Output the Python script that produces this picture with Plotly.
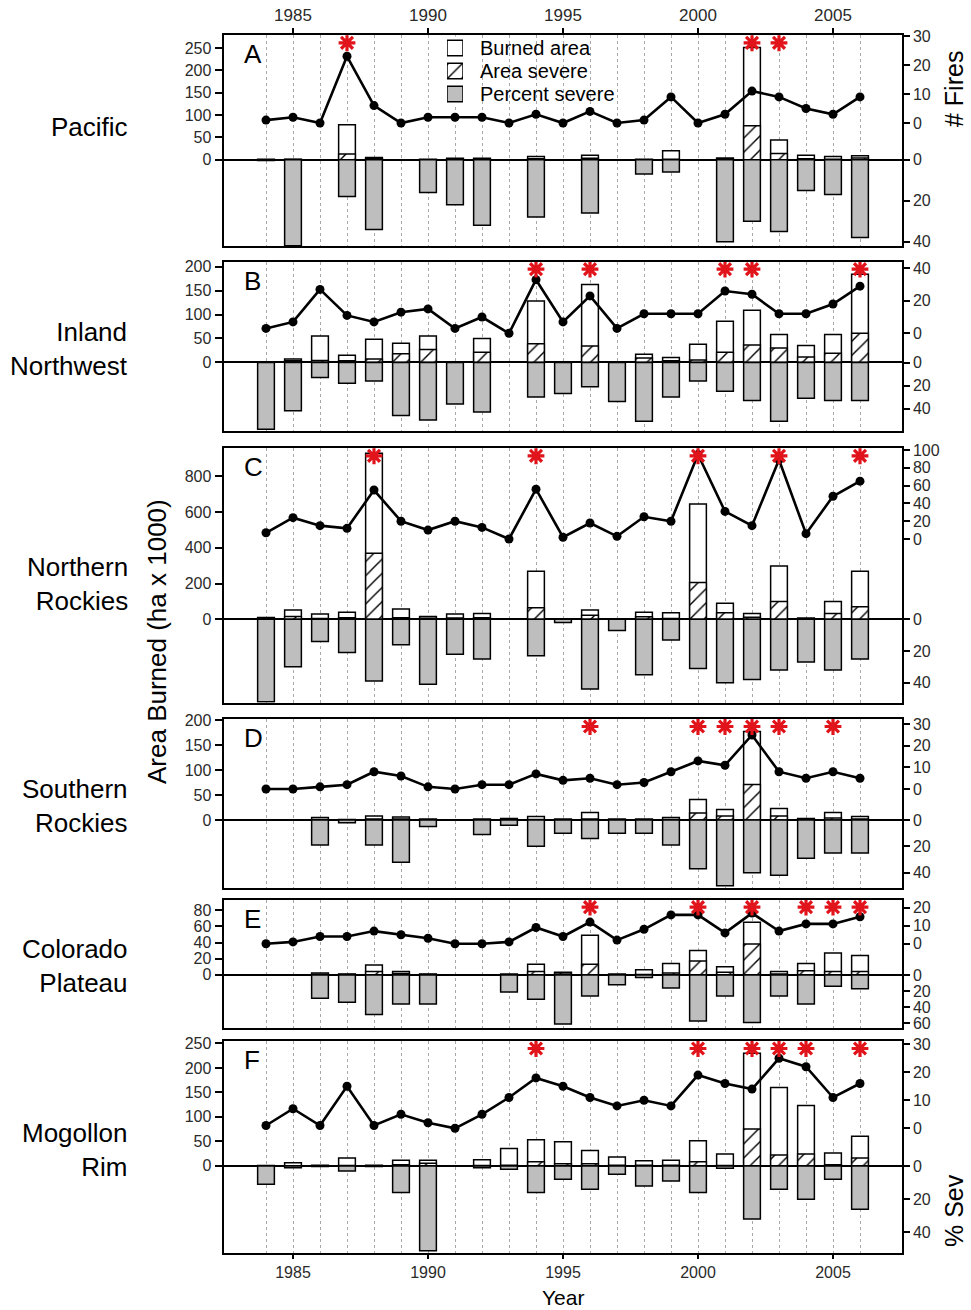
import plotly.graph_objects as go

N = None
years = list(range(1984, 2007))
regions = ["Pacific", "Inland<br>Northwest", "Northern<br>Rockies",
           "Southern<br>Rockies", "Colorado<br>Plateau", "Mogollon<br>Rim"]
letters = ["A", "B", "C", "D", "E", "F"]
year_ticks = [1985, 1990, 1995, 2000, 2005]
legend_labels = ["Burned area", "Area severe", "Percent severe"]

# ---- Pacific ----
pac_fires = [1, 2, 0, 23, 6, 0, 2, 2, 2, 0, 3, 0, 4, 0, 1, 9, 0, 3, 11, 9, 5, 3, 9]
pac_burned = [1, 1, N, 78, 5, N, 1, 3, 3, N, 7, N, 10, N, 1, 20, N, 4, 251, 44, 10, 7, 9]
pac_severe = [0, 0.5, N, 13, 2, N, 0, 1, 1, N, 2, N, 3, N, 0, 1, N, 2, 76, 14, 2, 1, 4]
pac_pct = [0.4, 42, N, 18, 34, N, 16, 22, 32, N, 28, N, 26, N, 7, 6, N, 40, 30, 35, 15, 17, 38]
pac_stars = [1987, 2002, 2003]

# ---- Inland Northwest ----
inw_fires = [3, 7, 27, 11, 7, 13, 15, 3, 10, 0, 33, 7, 23, 3, 12, 12, 12, 26, 24, 12, 12, 18, 29]
inw_burned = [1, 7, 55, 15, 48, 40, 55, 1, 50, N, 128, 1, 163, 1, 17, 10, 38, 86, 109, 58, 35, 58, 184]
inw_severe = [0.5, 3, 4, 3, 7, 18, 27, 0.3, 21, N, 39, 0.3, 34, 0.3, 9, 3, 5, 21, 36, 30, 11, 19, 61]
inw_pct = [58, 42, 13, 18, 16, 46, 50, 36, 43, N, 30, 27, 21, 34, 51, 30, 16, 25, 33, 51, 31, 33, 33]
inw_stars = [1994, 1996, 2001, 2002, 2006]

# ---- Northern Rockies ----
nro_fires = [7, 24, 15, 12, 55, 20, 10, 20, 13, 0, 56, 2, 18, 3, 25, 20, 95, 31, 15, 89, 6, 48, 65]
nro_burned = [10, 52, 30, 39, 927, 58, 15, 30, 33, N, 268, 3, 52, 1, 39, 37, 644, 89, 33, 298, 7, 99, 268]
nro_severe = [5, 15, 4, 8, 369, 9, 6, 7, 8, N, 65, 0.1, 23, 0, 14, 5, 205, 36, 12, 100, 2, 32, 70]
nro_pct = [52, 30, 14, 21, 39, 16, 41, 22, 25, N, 23, 2, 44, 7, 35, 13, 31, 40, 38, 32, 27, 32, 25]
nro_stars = [1988, 1994, 2000, 2003, 2006]

# ---- Southern Rockies ----
sro_fires = [0, 0, 1, 2, 8, 6, 1, 0, 2, 2, 7, 4, 5, 2, 3, 8, 13, 11, 25, 8, 5, 8, 5]
sro_burned = [N, N, 5, 1, 8, 6, 2, N, 2, 3, 7, 2, 15, 2, 2, 5, 41, 21, 177, 23, 3, 15, 7]
sro_severe = [N, N, 1, 0, 2, 2, 0, N, 0, 0, 1, 0, 2, 0, 0, 1, 14, 8, 71, 8, 1, 4, 2]
sro_pct = [N, N, 19, 2, 19, 32, 5, N, 11, 4, 20, 10, 14, 10, 10, 19, 37, 50, 40, 42, 29, 25, 25]
sro_stars = [1996, 2000, 2001, 2002, 2003, 2005]

# ---- Colorado Plateau ----
cpl_fires = [0, 1, 4, 4, 7, 5, 3, 0, 0, 1, 9, 4, 12, 2, 8, 16, 16, 6, 17, 7, 11, 11, 15]
cpl_burned = [N, N, 2, 1, 12, 4, 1, N, N, 1, 13, 3, 49, 1, 6, 14, 30, 10, 65, 4, 14, 27, 24]
cpl_severe = [N, N, 0.5, 0.3, 4, 1.5, 0.3, N, N, 0, 4, 2, 13, 0, 0.2, 2, 17, 3, 38, 1, 5, 4, 4]
cpl_pct = [N, N, 29, 34, 49, 36, 36, N, N, 21, 30, 61, 26, 12, 3, 16, 57, 26, 59, 26, 36, 14, 17]
cpl_stars = [1996, 2000, 2002, 2004, 2005, 2006]

# ---- Mogollon Rim ----
mog_fires = [1, 7, 1, 15, 1, 5, 2, 0, 5, 11, 18, 15, 11, 8, 10, 8, 19, 16, 14, 25, 22, 11, 16]
mog_burned = [0.5, 6, 1, 16, 1, 11, 11, N, 12, 35, 53, 49, 31, 18, 10, 11, 51, 24, 230, 160, 123, 26, 60]
mog_severe = [0, 0.1, 0, 0.5, 0, 2, 5, N, 0.2, 1, 8, 4, 4, 1, 1, 1, 8, 0.3, 75, 22, 24, 2, 16]
mog_pct = [11, 1, 0.3, 3, 0.3, 16, 51, N, 1, 2, 16, 8, 14, 5, 12, 9, 16, 1.4, 32, 14, 20, 8, 26]
mog_stars = [1994, 2000, 2002, 2003, 2004, 2006]

data = [
    (pac_fires, pac_burned, pac_severe, pac_pct, pac_stars),
    (inw_fires, inw_burned, inw_severe, inw_pct, inw_stars),
    (nro_fires, nro_burned, nro_severe, nro_pct, nro_stars),
    (sro_fires, sro_burned, sro_severe, sro_pct, sro_stars),
    (cpl_fires, cpl_burned, cpl_severe, cpl_pct, cpl_stars),
    (mog_fires, mog_burned, mog_severe, mog_pct, mog_stars),
]

# ---- layout geometry (pixels) ----
W, H = 971, 1310
X0, X1 = 224.3, 901.7
panels = [
    dict(top=35.3, bot=246.0, az=159.7, ap=0.4468, fz=123.0, fp=2.9, sz=159.7, sp=2.05,
         at=[0, 50, 100, 150, 200, 250], ft=[0, 10, 20, 30], st=[0, 20, 40]),
    dict(top=261.7, bot=431.0, az=362.3, ap=0.478, fz=333.3, fp=1.625, sz=362.5, sp=1.15,
         at=[0, 50, 100, 150, 200], ft=[0, 20, 40], st=[0, 20, 40]),
    dict(top=448.3, bot=702.7, az=619.3, ap=0.179, fz=539.0, fp=0.89, sz=619.3, sp=1.585,
         at=[0, 200, 400, 600, 800], ft=[0, 20, 40, 60, 80, 100], st=[0, 20, 40]),
    dict(top=719.0, bot=888.3, az=820.0, ap=0.5, fz=789.0, fp=2.16, sz=820.0, sp=1.317,
         at=[0, 50, 100, 150, 200], ft=[0, 10, 20, 30], st=[0, 20, 40]),
    dict(top=899.7, bot=1028.0, az=974.7, ap=0.805, fz=943.7, fp=1.8, sz=975.0, sp=0.805,
         at=[0, 20, 40, 60, 80], ft=[0, 10, 20], st=[0, 20, 40, 60]),
    dict(top=1041.0, bot=1253.3, az=1165.7, ap=0.489, fz=1128.3, fp=2.8, sz=1166.0, sp=1.66,
         at=[0, 50, 100, 150, 200, 250], ft=[0, 10, 20, 30], st=[0, 20, 40]),
]
label_centers = [127, 349, 584, 806, 966, 1150]

FONT = "Arial, Liberation Sans, sans-serif"
TICKC = "#2a2a2a"
STAR = "#e0141a"
GREY = "#bebebe"
HATCH = dict(shape="/", fgcolor="black", bgcolor="white", size=10, solidity=0.14,
             fillmode="replace")


def py(p):
    return 1 - p / H


xr = [1995 - (563 - X0) / 27.0, 1995 + (X1 - 563) / 27.0]

fig = go.Figure()
layout = dict(
    width=W, height=H, margin=dict(l=0, r=0, t=0, b=0), autosize=False,
    template="none", plot_bgcolor="white", paper_bgcolor="white",
    barmode="overlay", font=dict(family=FONT, color="black"),
    showlegend=False,
)
annotations = []

for i, (p, (fires, burned, severe, pct, stars)) in enumerate(zip(panels, data)):
    xn = i + 1
    yl, ys, yf = 3 * i + 1, 3 * i + 2, 3 * i + 3
    xname = "x" if xn == 1 else f"x{xn}"
    dom = [py(p["bot"]), py(p["top"])]
    arange = [(p["az"] - p["bot"]) / p["ap"], (p["az"] - p["top"]) / p["ap"]]
    frange = [(p["fz"] - p["bot"]) / p["fp"], (p["fz"] - p["top"]) / p["fp"]]
    srange = [(p["sz"] - p["bot"]) / p["sp"], (p["sz"] - p["top"]) / p["sp"]]

    xax = dict(domain=[X0 / W, X1 / W], range=xr, anchor=f"y{yl}",
               showline=True, mirror=True, linecolor="black", linewidth=1.5,
               tickmode="array", tickvals=year_ticks,
               showgrid=True, gridcolor="#a9a9a9", griddash="dot", gridwidth=1.2,
               minor=dict(tickmode="array", tickvals=years, showgrid=True,
                          gridcolor="#a9a9a9", griddash="dot", gridwidth=1.2, ticks=""),
               zeroline=False, fixedrange=True)
    if i == 0:
        xax.update(side="top", ticks="outside", ticklen=6, tickwidth=1.5, tickcolor="black",
                   showticklabels=True, tickfont=dict(size=17, color=TICKC))
    elif i == 5:
        xax.update(side="bottom", ticks="outside", ticklen=4, tickwidth=1.5, tickcolor="black",
                   showticklabels=True, tickfont=dict(size=16, color=TICKC))
    else:
        xax.update(ticks="", showticklabels=False)
    layout["xaxis" if xn == 1 else f"xaxis{xn}"] = xax

    layout[f"yaxis{yl}" if yl > 1 else "yaxis"] = dict(
        domain=dom, range=arange, anchor=xname, side="left",
        tickmode="array", tickvals=p["at"], ticks="outside", ticklen=8,
        tickwidth=1.5, tickcolor="black", tickfont=dict(size=16, color=TICKC),
        showline=True, mirror=True, linecolor="black", linewidth=1.5,
        showgrid=False, zeroline=True, zerolinecolor="black", zerolinewidth=1.5,
        fixedrange=True)
    layout[f"yaxis{ys}"] = dict(
        domain=dom, range=srange, anchor=xname, side="right",
        overlaying="y" if yl == 1 else f"y{yl}",
        tickmode="array", tickvals=[-v for v in p["st"]],
        ticktext=[str(v) for v in p["st"]], ticks="outside", ticklen=7,
        tickwidth=1.5, tickcolor="black", tickfont=dict(size=16, color=TICKC),
        showline=False, showgrid=False, zeroline=False, fixedrange=True)
    layout[f"yaxis{yf}"] = dict(
        domain=dom, range=frange, anchor=xname, side="right",
        overlaying="y" if yl == 1 else f"y{yl}",
        tickmode="array", tickvals=p["ft"], ticks="outside", ticklen=7,
        tickwidth=1.5, tickcolor="black", tickfont=dict(size=16, color=TICKC),
        showline=False, showgrid=False, zeroline=False, fixedrange=True)

    yl_name = "y" if yl == 1 else f"y{yl}"
    fig.add_trace(go.Bar(
        x=years, y=burned, xaxis=xname, yaxis=yl_name, width=0.62,
        name="Burned area",
        marker=dict(color="white", line=dict(color="black", width=1.5)),
        hoverinfo="skip"))
    fig.add_trace(go.Bar(
        x=years, y=severe, xaxis=xname, yaxis=yl_name, width=0.62,
        name="Area severe",
        marker=dict(color="white", line=dict(color="black", width=1.5), pattern=HATCH),
        hoverinfo="skip"))
    fig.add_trace(go.Bar(
        x=years, y=[(-v if v is not None else None) for v in pct],
        xaxis=xname, yaxis=f"y{ys}", width=0.62,
        name="Percent severe",
        marker=dict(color=GREY, line=dict(color="black", width=1.5)),
        hoverinfo="skip"))
    fig.add_trace(go.Scatter(
        x=years, y=fires, xaxis=xname, yaxis=f"y{yf}", mode="lines+markers",
        line=dict(color="black", width=2.6), marker=dict(size=9, color="black"),
        hoverinfo="skip"))
    star_y = frange[1] - 7.5 / p["fp"]
    fig.add_trace(go.Scatter(
        x=stars, y=[star_y] * len(stars), xaxis=xname, yaxis=f"y{yf}", mode="markers",
        marker=dict(symbol="asterisk-open", size=14, color=STAR,
                    line=dict(color=STAR, width=3.2)),
        hoverinfo="skip"))

    annotations.append(dict(text=regions[i], x=130 / W, y=py(label_centers[i]),
                            xref="paper", yref="paper", xanchor="right", yanchor="middle",
                            align="right", showarrow=False,
                            font=dict(size=26, family=FONT, color="black")))
    annotations.append(dict(text=letters[i], x=242 / W, y=py(p["top"] + 19),
                            xref="paper", yref="paper", xanchor="left", yanchor="middle",
                            showarrow=False, font=dict(size=26, family=FONT, color="black")))

# ---- legend (drawn as swatches in a small inset axis) ----
LEG_TOP, LEG_STEP = 36.5, 23.0
layout["xaxis7"] = dict(domain=[447 / W, 463 / W], range=[0, 1], anchor="y19",
                        visible=False, fixedrange=True)
layout["yaxis19"] = dict(domain=[py(LEG_TOP + 3 * LEG_STEP), py(LEG_TOP)],
                         range=[2.5, -0.5], anchor="x7", visible=False, fixedrange=True)
leg_markers = [
    dict(color="white", line=dict(color="black", width=1.5)),
    dict(color="white", line=dict(color="black", width=1.5), pattern=HATCH),
    dict(color=GREY, line=dict(color="black", width=1.5)),
]
for k, (lab, mk) in enumerate(zip(legend_labels, leg_markers)):
    fig.add_trace(go.Bar(x=[1], y=[k], orientation="h", xaxis="x7", yaxis="y19",
                         width=0.68, marker=mk, name=lab, hoverinfo="skip"))
    annotations.append(dict(text=lab, x=478 / W, y=py(LEG_TOP + (k + 0.5) * LEG_STEP),
                            xref="paper", yref="paper", xanchor="left", yanchor="middle",
                            showarrow=False, font=dict(size=20, family=FONT, color="black")))

annotations += [
    dict(text="Area Burned (ha x 1000)", x=157 / W, y=py(642), xref="paper", yref="paper",
         textangle=-90, showarrow=False, xanchor="center", yanchor="middle",
         font=dict(size=26, family=FONT, color="black")),
    dict(text="# Fires", x=954 / W, y=py(89), xref="paper", yref="paper",
         textangle=-90, showarrow=False, xanchor="center", yanchor="middle",
         font=dict(size=25, family=FONT, color="black")),
    dict(text="% Sev", x=954 / W, y=py(1211), xref="paper", yref="paper",
         textangle=-90, showarrow=False, xanchor="center", yanchor="middle",
         font=dict(size=25, family=FONT, color="black")),
    dict(text="Year", x=563 / W, y=py(1310), xref="paper", yref="paper",
         showarrow=False, xanchor="center", yanchor="bottom", borderpad=0,
         font=dict(size=21, family=FONT, color="black")),
]
layout["annotations"] = annotations
fig.update_layout(**layout)
fig.write_html("out.html", config={"displayModeBar": False},
               post_script="document.body.style.margin='0px';")
